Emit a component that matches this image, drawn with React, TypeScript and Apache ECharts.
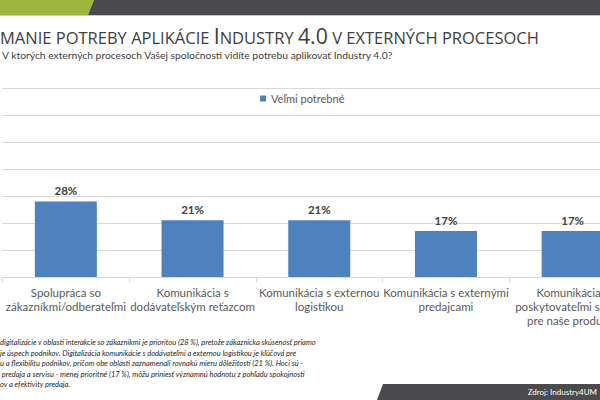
import React, { useEffect, useRef } from "react";
import * as echarts from "echarts";

const categories = [
  "Spolupráca so\nzákazníkmi/odberateľmi",
  "Komunikácia s\ndodávateľským reťazcom",
  "Komunikácia s externou\nlogistikou",
  "Komunikácia s externými\npredajcami",
  "Komunikácia s\nposkytovateľmi servisu\npre naše produkty",
];
const seriesName = "Veľmi potrebné";
const values = [28, 21, 21, 17, 17];
const subtitle =
  "V ktorých externých procesoch Vašej spoločnosti vidíte potrebu aplikovať Industry 4.0?";
const footnoteLines = [
  "digitalizácie v oblasti interakcie so zákazníkmi je prioritou (28 %), pretože zákaznícka skúsenosť priamo",
  "je úspech podnikov. Digitalizácia komunikácie s dodávateľmi a externou logistikou je kľúčová pre",
  "u a flexibilitu podnikov, pričom obe oblasti zaznamenali rovnakú mieru dôležitosti (21 %). Hoci sú -",
  " predaja a servisu - menej prioritné (17 %), môžu priniesť významnú hodnotu z pohľadu spokojnosti",
  "ov a efektivity predaja.",
];
const source = "Zdroj: Industry4UM";

const FONT = "Lato, 'Noto Sans', sans-serif";
const TITLE_FONT = "'Open Sans', 'Noto Sans', sans-serif";

export default function App() {
  const ref = useRef<HTMLDivElement>(null);
  useEffect(() => {
    document.body.style.margin = "0";
    if (!ref.current) return;
    const chart = echarts.init(ref.current, null, { renderer: "svg" });
    chart.setOption({
      animation: false,
      backgroundColor: "#ffffff",
      title: {
        left: 0,
        top: 25,
        padding: 0,
        text: "{s|MANIE POTREBY APLIKÁCIE }{b|I}{s|NDUSTRY }{b|4.0}{s| V EXTERNÝCH PROCESOCH}",
        textStyle: {
          fontWeight: "normal",
          rich: {
            s: { fontFamily: TITLE_FONT, fontSize: 16.5, fontWeight: "normal", color: "#404040", verticalAlign: "bottom" },
            b: { fontFamily: TITLE_FONT, fontSize: 21.3, fontWeight: "normal", color: "#404040", verticalAlign: "bottom" },
          },
        },
      },
      legend: {
        data: [seriesName],
        left: 260,
        top: 93,
        padding: 0,
        icon: "rect",
        itemWidth: 6,
        itemHeight: 6,
        textStyle: { color: "#595959", fontSize: 11, fontFamily: FONT },
      },
      grid: {
        left: 2.5,
        right: -36,
        top: 88,
        bottom: 123,
        containLabel: false,
        outerBoundsMode: "none",
      },
      xAxis: {
        type: "category",
        data: categories,
        axisLine: { lineStyle: { color: "#d9d9d9" } },
        axisTick: { show: true, length: 5, lineStyle: { color: "#d9d9d9" } },
        axisLabel: {
          interval: 0,
          color: "#595959",
          fontSize: 11.5,
          fontFamily: FONT,
          lineHeight: 14,
          margin: 8,
          hideOverlap: false,
        },
      },
      yAxis: {
        type: "value",
        min: 0,
        max: 70,
        interval: 10,
        axisLabel: { show: false },
        axisLine: { show: false },
        axisTick: { show: false },
        splitLine: { lineStyle: { color: "#d9d9d9" } },
      },
      series: [
        {
          name: seriesName,
          type: "bar",
          data: values,
          barWidth: 62,
          itemStyle: { color: "#4f81bd" },
          label: {
            show: true,
            position: "top",
            distance: 5,
            formatter: "{c}%",
            color: "#404040",
            fontWeight: "bold",
            fontSize: 11.5,
            fontFamily: FONT,
          },
        },
      ],
      graphic: [
        {
          type: "polygon",
          shape: { points: [[0, 0], [94, 0], [88, 15], [0, 15]] },
          style: { fill: "#9db53c" },
        },
        {
          type: "polygon",
          shape: { points: [[94, 0], [600, 0], [600, 15], [88, 15]] },
          style: { fill: "#4b4b4d" },
        },
        {
          type: "rect",
          shape: { x: 0, y: 15, width: 600, height: 1 },
          style: { fill: "#c8c8c8" },
        },
        {
          type: "text",
          x: 2,
          y: 55,
          style: {
            text: subtitle,
            fill: "#404040",
            fontSize: 10.3,
            fontFamily: FONT,
            verticalAlign: "middle",
          },
        },
        {
          type: "text",
          x: 0,
          y: 337.5,
          style: {
            text: footnoteLines.join("\n"),
            fill: "#262626",
            fontSize: 7.5,
            fontStyle: "italic",
            fontFamily: FONT,
            lineHeight: 10.5,
            verticalAlign: "top",
          },
        },
        {
          type: "polygon",
          shape: { points: [[383, 384], [600, 384], [600, 400], [377, 400]] },
          style: { fill: "#4b4b4d" },
        },
        {
          type: "text",
          x: 597,
          y: 392,
          style: {
            text: source,
            fill: "#ffffff",
            fontSize: 8,
            fontFamily: FONT,
            align: "right",
            verticalAlign: "middle",
          },
        },
      ],
    });
    return () => chart.dispose();
  }, []);
  return <div ref={ref} style={{ width: 600, height: 400 }} />;
}
